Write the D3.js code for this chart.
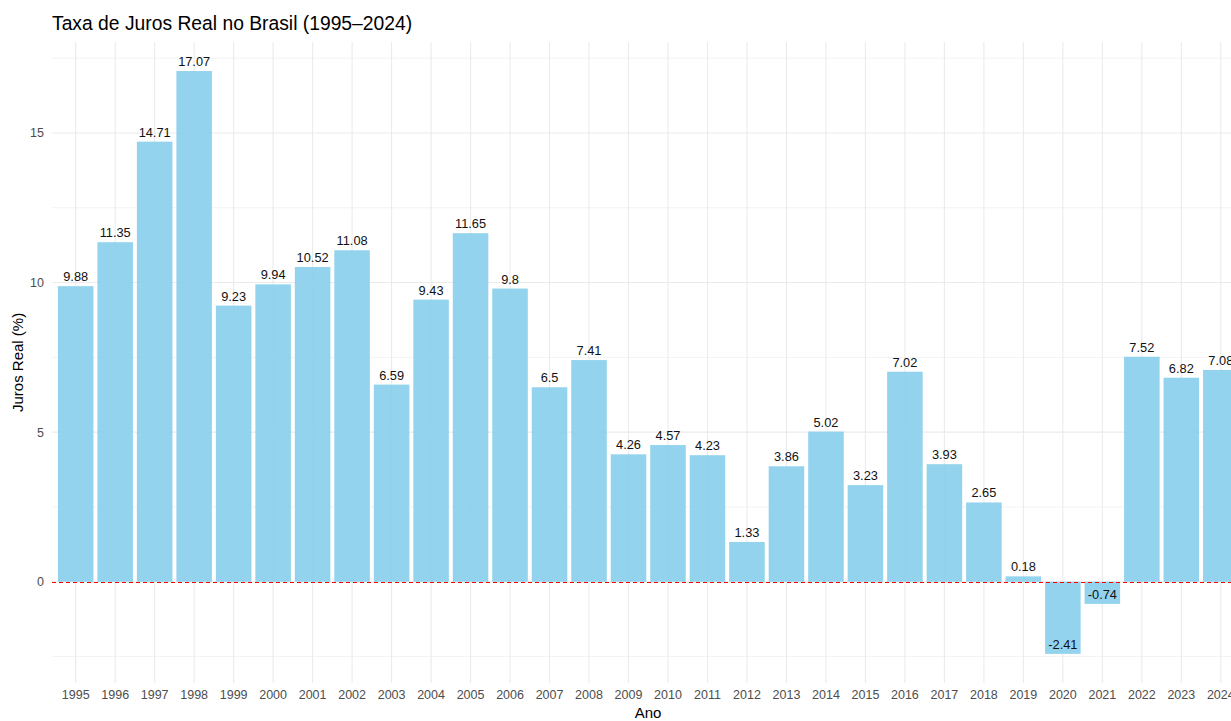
<!DOCTYPE html>
<html><head><meta charset="utf-8">
<script src="https://cdn.jsdelivr.net/npm/d3@7"></script>
<style>
html,body{margin:0;padding:0;background:#fff;overflow:hidden}
svg{display:block;font-family:"Liberation Sans",Arial,sans-serif}
</style></head>
<body>
<svg id="chart" width="1231" height="721"></svg>
<script>
const years = ["1995","1996","1997","1998","1999","2000","2001","2002","2003","2004","2005","2006","2007","2008","2009","2010","2011","2012","2013","2014","2015","2016","2017","2018","2019","2020","2021","2022","2023","2024"];
const values = [9.88,11.35,14.71,17.07,9.23,9.94,10.52,11.08,6.59,9.43,11.65,9.8,6.5,7.41,4.26,4.57,4.23,1.33,3.86,5.02,3.23,7.02,3.93,2.65,0.18,-2.41,-0.74,7.52,6.82,7.08];
const labels = ["9.88","11.35","14.71","17.07","9.23","9.94","10.52","11.08","6.59","9.43","11.65","9.8","6.5","7.41","4.26","4.57","4.23","1.33","3.86","5.02","3.23","7.02","3.93","2.65","0.18","-2.41","-0.74","7.52","6.82","7.08"];
const yTicks = [0,5,10,15];
const yMinor = [-2.5,2.5,7.5,12.5,17.5];

(function(){
const svg = d3.select("#chart");
const pL = 52, pR = 1244.5, pT = 41.9, pB = 683;

const ymin = d3.min(values), ymax = d3.max(values);
const pad = (ymax - ymin) * 0.05;
const y = d3.scaleLinear().domain([ymin - pad, ymax + pad]).range([pB, pT]);

const x = d3.scaleBand().domain(years).range([pL, pR]).paddingInner(0.1).paddingOuter(0.15);
const xc = d => x(d) + x.bandwidth()/2;

const g = svg.append("g");
g.selectAll("line.minor").data(yMinor).join("line").attr("class","minor")
  .attr("x1", pL).attr("x2", pR).attr("y1", d=>y(d)).attr("y2", d=>y(d))
  .attr("stroke", "#f3f3f3").attr("stroke-width", 1);
g.selectAll("line.major").data(yTicks).join("line").attr("class","major")
  .attr("x1", pL).attr("x2", pR).attr("y1", d=>y(d)).attr("y2", d=>y(d))
  .attr("stroke", "#ebebeb").attr("stroke-width", 1.1);
g.selectAll("line.vgrid").data(years).join("line").attr("class","vgrid")
  .attr("x1", d=>xc(d)).attr("x2", d=>xc(d)).attr("y1", pT).attr("y2", pB)
  .attr("stroke", "#ebebeb").attr("stroke-width", 1.1);

g.selectAll("rect.bar").data(values).join("rect").attr("class","bar")
  .attr("x", (d,i)=>x(years[i]))
  .attr("width", x.bandwidth())
  .attr("y", d=>y(Math.max(0,d)))
  .attr("height", d=>Math.abs(y(d)-y(0)))
  .attr("fill", "#87CEEB").attr("fill-opacity", 0.9);

const y0 = Math.round(y(0)) + 0.5;
g.append("line").attr("x1", pL).attr("x2", pR).attr("y1", y0).attr("y2", y0)
  .attr("stroke", "#ff0000").attr("stroke-width", 1.2).attr("stroke-dasharray", "4,3");

g.selectAll("text.lab").data(values).join("text").attr("class","lab")
  .attr("x", (d,i)=>xc(years[i]))
  .attr("y", d=>y(d) - 5)
  .attr("text-anchor", "middle")
  .attr("font-size", 12.8).attr("fill", "#111")
  .text((d,i)=>labels[i]);

const yAxis = d3.axisLeft(y).tickValues(yTicks).tickSize(0).tickPadding(8);
svg.append("g").attr("transform", `translate(${pL},0)`).call(yAxis)
  .call(a=>a.select(".domain").remove())
  .call(a=>a.selectAll("text").attr("font-size", 12.5).attr("fill", "#4d4d4d").attr("font-family","Liberation Sans, Arial, sans-serif"));

const xAxis = d3.axisBottom(x).tickSize(0).tickPadding(7);
svg.append("g").attr("transform", `translate(0,${pB})`).call(xAxis)
  .call(a=>a.select(".domain").remove())
  .call(a=>a.selectAll("text").attr("font-size", 12.5).attr("fill", "#4d4d4d").attr("font-family","Liberation Sans, Arial, sans-serif"));

svg.append("text").attr("x", 52).attr("y", 30).attr("font-size", 19.3).attr("fill", "#000")
  .text("Taxa de Juros Real no Brasil (1995–2024)");
svg.append("text").attr("x", 648).attr("y", 718).attr("text-anchor", "middle").attr("font-size", 15).attr("fill", "#000").text("Ano");
svg.append("text").attr("transform", `translate(23,${(pT+pB)/2}) rotate(-90)`).attr("text-anchor", "middle").attr("font-size", 15).attr("fill", "#000").text("Juros Real (%)");
})();
</script>
</body></html>
